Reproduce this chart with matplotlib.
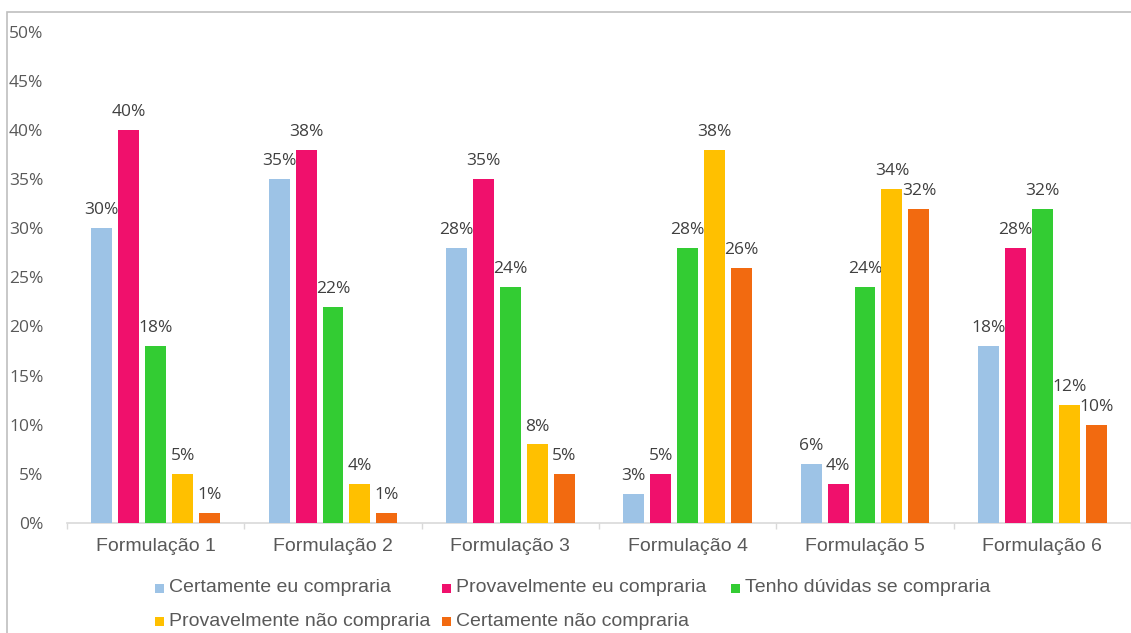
import matplotlib
matplotlib.use("Agg")
import matplotlib.pyplot as plt
import numpy as np
from matplotlib.patches import Rectangle

categories = ["Formulação 1", "Formulação 2", "Formulação 3",
              "Formulação 4", "Formulação 5", "Formulação 6"]
series_names = ["Certamente eu compraria", "Provavelmente eu compraria",
                "Tenho dúvidas se compraria", "Provavelmente não compraria",
                "Certamente não compraria"]
certamente_eu = [30, 35, 28, 3, 6, 18]
provavelmente_eu = [40, 38, 35, 5, 4, 28]
tenho_duvidas = [18, 22, 24, 28, 24, 32]
provavelmente_nao = [5, 4, 8, 38, 34, 12]
certamente_nao = [1, 1, 5, 26, 32, 10]
y_ticks = [0, 5, 10, 15, 20, 25, 30, 35, 40, 45, 50]

series = [certamente_eu, provavelmente_eu, tenho_duvidas, provavelmente_nao, certamente_nao]
colors = ["#9DC3E6", "#F0106C", "#33CC33", "#FFC000", "#F26A10"]

W, H = 1131, 633
fig = plt.figure(figsize=(W / 100, H / 100), dpi=100)
fig.patch.set_facecolor("white")

# outer chart border
fig.patches.append(Rectangle((7 / W, -0.1), 1.2, 1 - 12 / H + 0.1,
                             transform=fig.transFigure, fill=False,
                             edgecolor="#BFBFBF", linewidth=1.2))

ax_left, ax_right = 67 / W, 1.0
ax_bottom, ax_top = 1 - 523 / H, 1 - 31.7 / H
ax = fig.add_axes([ax_left, ax_bottom, ax_right - ax_left, ax_top - ax_bottom])

x = np.arange(len(categories))
step = 27 / 177.6
width = 21 / 177.6
for i, (vals, c, name) in enumerate(zip(series, colors, series_names)):
    pos = x + (i - 2) * step
    ax.bar(pos, vals, width=width, color=c, label=name, zorder=3)
    for xp, v in zip(pos, vals):
        ax.annotate(f"{v}%", (xp, v), xytext=(0, 7), textcoords="offset points",
                    ha="center", va="bottom", fontsize=12.5,
                    family="Open Sans", color="#404040")

ax.set_xlim(-0.5, 5.5 - 2 / 177.6)
ax.set_ylim(0, 50)
ax.set_yticks(y_ticks)
ax.set_yticklabels([f"{t}%" for t in y_ticks], family="Open Sans",
                   fontsize=12.5, color="#595959")
ax.set_xticks(x)
ax.set_xticklabels(categories, family="Liberation Sans", fontsize=14, color="#595959")
ax.set_xticks(np.arange(len(categories) + 1) - 0.5, minor=True)
ax.tick_params(axis="x", which="major", length=0, pad=11)
ax.tick_params(axis="x", which="minor", length=4, color="#D9D9D9", width=1)
ax.tick_params(axis="y", length=0, pad=17)

for s in ["top", "right", "left"]:
    ax.spines[s].set_visible(False)
ax.spines["bottom"].set_color("#D9D9D9")
ax.spines["bottom"].set_linewidth(1.2)

# legend laid out like the original (two rows, aligned columns)
legend_pos = [(155, 588), (442, 588), (731, 588), (155, 621), (442, 621)]
for (px, py), c, name in zip(legend_pos, colors, series_names):
    fig.patches.append(Rectangle((px / W, 1 - (py + 4.5) / H), 9 / W, 9 / H,
                                 transform=fig.transFigure, facecolor=c,
                                 edgecolor="none"))
    fig.text((px + 14) / W, 1 - py / H, name, family="Liberation Sans",
             fontsize=14, color="#595959", va="center", ha="left")

fig.savefig("out.png", dpi=100)
